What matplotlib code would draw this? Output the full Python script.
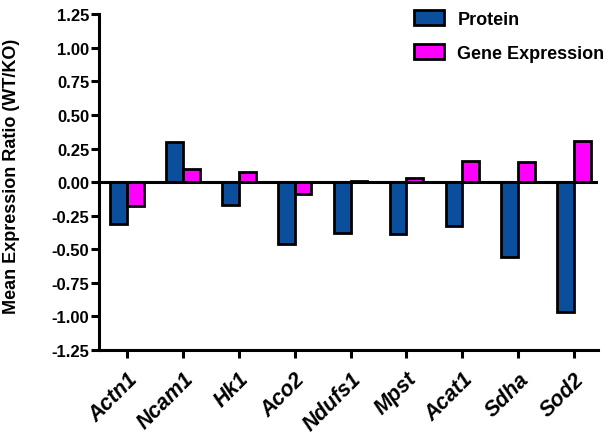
import matplotlib
matplotlib.use("Agg")
import matplotlib.pyplot as plt
import numpy as np

genes = ["Actn1", "Ncam1", "Hk1", "Aco2", "Ndufs1", "Mpst", "Acat1", "Sdha", "Sod2"]
protein = [-0.31, 0.30, -0.17, -0.46, -0.38, -0.385, -0.33, -0.56, -0.97]
gene_expr = [-0.18, 0.10, 0.075, -0.085, 0.005, 0.03, 0.155, 0.15, 0.305]
yticks = [1.25, 1.00, 0.75, 0.50, 0.25, 0.00, -0.25, -0.50, -0.75, -1.00, -1.25]

plt.rcParams['font.family'] = ['Liberation Sans', 'DejaVu Sans']

fig = plt.figure(figsize=(6.11, 4.35), dpi=100)
ax = fig.add_axes([0.162, 0.193, 0.817, 0.772])

for s in ["top", "right"]:
    ax.spines[s].set_visible(False)
ax.spines["left"].set_linewidth(2.2)
ax.spines["bottom"].set_linewidth(2.2)
ax.spines["bottom"].set_position(("data", -1.25))

x = np.arange(len(genes))
w = 0.3
ax.bar(x - w / 2, protein, w, color="#0b4f9c", edgecolor="black", linewidth=2, label="Protein")
ax.bar(x + w / 2, gene_expr, w, color="#ff00ff", edgecolor="black", linewidth=2, label="Gene Expression")

ax.set_ylim(-1.25, 1.25)
ax.set_xlim(-0.5, 8.43)
ax.set_yticks(yticks)
ax.set_yticklabels([f"{v:.2f}" for v in yticks], fontsize=12, fontweight="bold")
ax.set_xticks(x)
ax.set_xticklabels(genes, rotation=45, ha="right", rotation_mode="anchor",
                   fontsize=15.5, fontweight="bold", fontstyle="italic")
ax.set_ylabel("Mean Expression Ratio (WT/KO)", fontsize=13, fontweight="bold")
ax.yaxis.set_label_coords(-0.158, 0.52)

ax.tick_params(axis="both", width=2.2, length=6, color="black")
ax.tick_params(axis="y", pad=1)
ax.tick_params(axis="x", pad=7)

ax.axhline(0, color="black", linewidth=2.2, zorder=3)

leg = ax.legend(loc="upper right", bbox_to_anchor=(1.045, 1.062), frameon=False,
                prop={"weight": "bold", "size": 13}, handlelength=1.65, handleheight=0.95,
                labelspacing=0.9, handletextpad=0.72)
for p in leg.get_patches():
    p.set_linewidth(2)

fig.savefig("out.png", dpi=100)
